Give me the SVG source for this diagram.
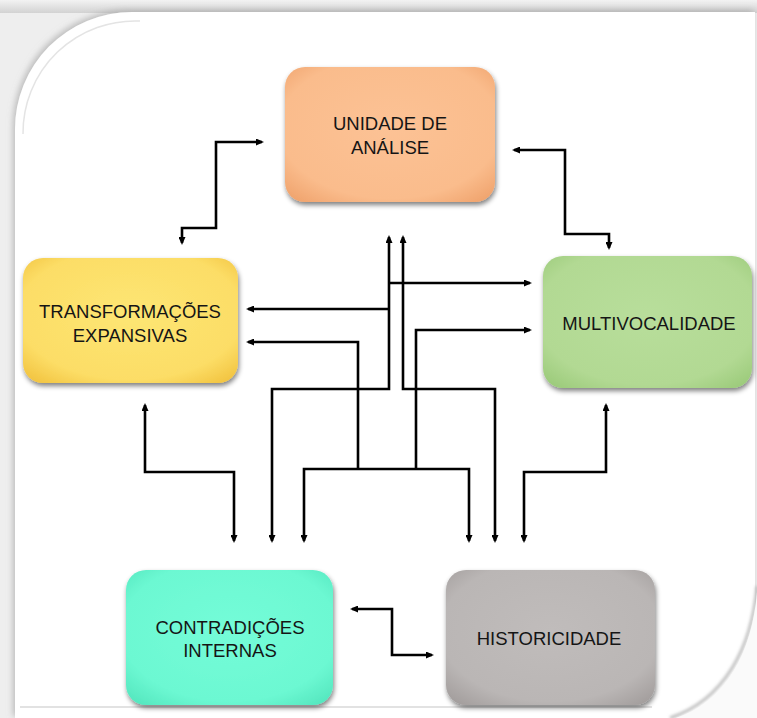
<svg xmlns="http://www.w3.org/2000/svg" width="757" height="718" viewBox="0 0 757 718">
  <style>
    .lbl { font-family: "Liberation Sans", Arial, sans-serif; font-size: 18.5px; fill: #151515; text-anchor: middle; }
    .wire { fill: none; stroke: #000; stroke-width: 2.6; stroke-linejoin: miter; }
    .tip-both { marker-start: url(#arrow); marker-end: url(#arrow); }
    .tip-end { marker-end: url(#arrow); }
    .tip-start { marker-start: url(#arrow); }
    .card { filter: url(#cardShadow); }
  </style>
  <defs>
    <marker id="arrow" viewBox="0 0 8 7" refX="6" refY="3.5" markerWidth="8" markerHeight="7" markerUnits="userSpaceOnUse" orient="auto-start-reverse">
      <path d="M0,0 L8,3.5 L0,7 Z" fill="#000"/>
    </marker>
    <filter id="cardShadow" x="-10%" y="-10%" width="125%" height="130%">
      <feGaussianBlur in="SourceAlpha" stdDeviation="2.5"/>
      <feOffset dx="1" dy="3" result="b"/>
      <feComponentTransfer><feFuncA type="linear" slope="0.5"/></feComponentTransfer>
      <feMerge><feMergeNode/><feMergeNode in="SourceGraphic"/></feMerge>
    </filter>
    <filter id="frameShadow" x="-5%" y="-5%" width="110%" height="110%">
      <feDropShadow dx="-2" dy="-2" stdDeviation="3" flood-color="#9a9a9a" flood-opacity="0.6"/>
    </filter>
    <filter id="soft" x="-10%" y="-10%" width="120%" height="120%">
      <feGaussianBlur stdDeviation="1.5"/>
    </filter>
    <linearGradient id="topBand" x1="0" y1="0" x2="0" y2="1">
      <stop offset="0" stop-color="#f3f3f3"/>
      <stop offset="1" stop-color="#d2d2d2"/>
    </linearGradient>
    <radialGradient id="gOrange" cx="50%" cy="45%" r="70%">
      <stop offset="0" stop-color="#fcc295"/>
      <stop offset="0.75" stop-color="#fabc8c"/>
      <stop offset="1" stop-color="#f0a46e"/>
    </radialGradient>
    <radialGradient id="gYellow" cx="50%" cy="45%" r="70%">
      <stop offset="0" stop-color="#fde674"/>
      <stop offset="0.75" stop-color="#fcdd66"/>
      <stop offset="1" stop-color="#f2c441"/>
    </radialGradient>
    <radialGradient id="gGreen" cx="50%" cy="45%" r="70%">
      <stop offset="0" stop-color="#b8de9b"/>
      <stop offset="0.75" stop-color="#b2d993"/>
      <stop offset="1" stop-color="#9ccb7b"/>
    </radialGradient>
    <radialGradient id="gTeal" cx="50%" cy="45%" r="70%">
      <stop offset="0" stop-color="#74fcd8"/>
      <stop offset="0.75" stop-color="#6cf8d2"/>
      <stop offset="1" stop-color="#55e7bf"/>
    </radialGradient>
    <radialGradient id="gGray" cx="50%" cy="45%" r="70%">
      <stop offset="0" stop-color="#c0bcbb"/>
      <stop offset="0.75" stop-color="#bab6b5"/>
      <stop offset="1" stop-color="#a39e9d"/>
    </radialGradient>
  </defs>

  <!-- page backdrop and frame -->
  <rect width="757" height="718" fill="#eeeeee"/>
  <rect width="757" height="13" fill="url(#topBand)"/>
  <path d="M15,130 A117,117 0 0 1 132,12 H755 V718 H15 Z" fill="#ffffff" filter="url(#frameShadow)"/>
  <path d="M23,134 A112,112 0 0 1 140,21" fill="none" stroke="#e4e4e4" stroke-width="1.5"/>
  <line x1="20" y1="707" x2="652" y2="707" stroke="#d9d9d9" stroke-width="1.5"/>
  <path d="M757,586 C752,648 724,700 670,718" fill="none" stroke="#bdbdbd" stroke-width="3" filter="url(#soft)"/>
  <path d="M757,592 C752,652 726,702 676,718 H757 Z" fill="#fafafa"/>

  <!-- connectors -->
  <g id="connectors">
    <path class="wire tip-both" d="M182,243 V228 H216 V142 H262"/>
    <path class="wire tip-both" d="M514,150 H565 V234 H609 V248"/>
    <path class="wire tip-both" d="M389,237 V389 H272 V541"/>
    <path class="wire tip-end" d="M389,283 H530"/>
    <path class="wire tip-end" d="M389,309 H248"/>
    <path class="wire tip-both" d="M403,237 V389 H495 V541"/>
    <path class="wire tip-start" d="M248,342 H358 V469"/>
    <path class="wire tip-start" d="M530,330 H416 V469"/>
    <path class="wire tip-both" d="M304,541 V469 H469 V541"/>
    <path class="wire tip-both" d="M145,405 V472 H234 V541"/>
    <path class="wire tip-both" d="M606,405 V472 H524 V541"/>
    <path class="wire tip-both" d="M352,609 H392 V655 H432"/>
  </g>

  <!-- nodes -->
  <g id="unidade-de-analise">
    <rect class="card" x="285" y="67" width="210" height="135" rx="20" fill="url(#gOrange)"/>
    <text class="lbl" x="390" y="130">UNIDADE DE</text>
    <text class="lbl" x="390" y="154">ANÁLISE</text>
  </g>
  <g id="transformacoes-expansivas">
    <rect class="card" x="23" y="258" width="215" height="125" rx="20" fill="url(#gYellow)"/>
    <text class="lbl" x="130" y="318">TRANSFORMAÇÕES</text>
    <text class="lbl" x="130" y="342">EXPANSIVAS</text>
  </g>
  <g id="multivocalidade">
    <rect class="card" x="543" y="256" width="209" height="132" rx="20" fill="url(#gGreen)"/>
    <text class="lbl" x="649" y="330">MULTIVOCALIDADE</text>
  </g>
  <g id="contradicoes-internas">
    <rect class="card" x="126" y="570" width="207" height="135" rx="20" fill="url(#gTeal)"/>
    <text class="lbl" x="230" y="634">CONTRADIÇÕES</text>
    <text class="lbl" x="230" y="657">INTERNAS</text>
  </g>
  <g id="historicidade">
    <rect class="card" x="446" y="570" width="209" height="135" rx="20" fill="url(#gGray)"/>
    <text class="lbl" x="549" y="645">HISTORICIDADE</text>
  </g>
</svg>
